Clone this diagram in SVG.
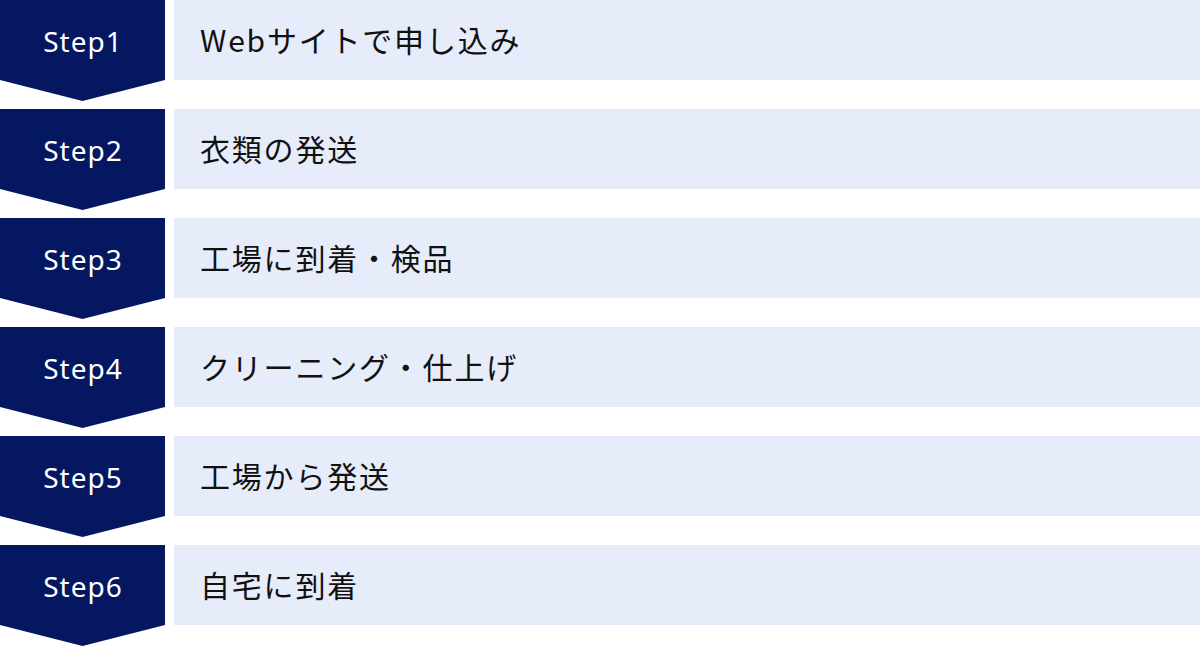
<svg xmlns="http://www.w3.org/2000/svg" width="1200" height="647" viewBox="0 0 1200 647">
<style>
.chev{fill:#041760}
.bar{fill:#E6ECF9}
.st{font-family:"Noto Sans","Noto Sans CJK JP",sans-serif;font-size:28px;fill:#ffffff;text-anchor:middle;letter-spacing:1px}
.lb{font-family:"Noto Sans CJK JP","Noto Sans",sans-serif;font-size:30px;fill:#111111;letter-spacing:1.8px}
</style>
<defs>
<path id="ch" d="M0,0 H165 V80 L82.5,101 L0,80 Z"/>
</defs>
<g id="step1" transform="translate(0,0)">
<use href="#ch" class="chev"/><rect class="bar" x="174" y="0" width="1026" height="80"/>
<text class="st" x="83" y="52">Step1</text><text class="lb" x="200" y="52">Webサイトで申し込み</text>
</g>
<g id="step2" transform="translate(0,109)">
<use href="#ch" class="chev"/><rect class="bar" x="174" y="0" width="1026" height="80"/>
<text class="st" x="83" y="52">Step2</text><text class="lb" x="200" y="52">衣類の発送</text>
</g>
<g id="step3" transform="translate(0,218)">
<use href="#ch" class="chev"/><rect class="bar" x="174" y="0" width="1026" height="80"/>
<text class="st" x="83" y="52">Step3</text><text class="lb" x="200" y="52">工場に到着・検品</text>
</g>
<g id="step4" transform="translate(0,327)">
<use href="#ch" class="chev"/><rect class="bar" x="174" y="0" width="1026" height="80"/>
<text class="st" x="83" y="52">Step4</text><text class="lb" x="200" y="52">クリーニング・仕上げ</text>
</g>
<g id="step5" transform="translate(0,436)">
<use href="#ch" class="chev"/><rect class="bar" x="174" y="0" width="1026" height="80"/>
<text class="st" x="83" y="52">Step5</text><text class="lb" x="200" y="52">工場から発送</text>
</g>
<g id="step6" transform="translate(0,545)">
<use href="#ch" class="chev"/><rect class="bar" x="174" y="0" width="1026" height="80"/>
<text class="st" x="83" y="52">Step6</text><text class="lb" x="200" y="52">自宅に到着</text>
</g>
<g id="connectors"></g>
</svg>
